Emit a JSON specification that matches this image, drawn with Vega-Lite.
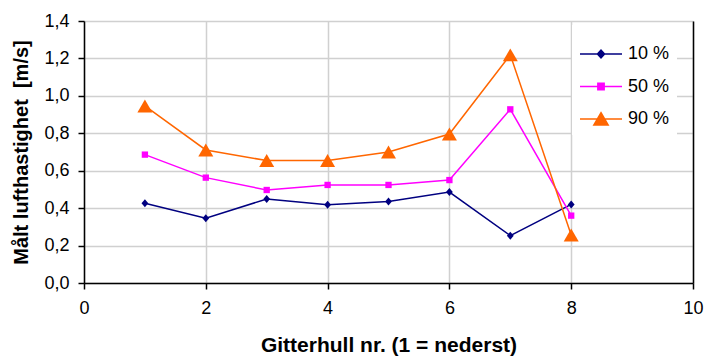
{
  "$schema": "https://vega.github.io/schema/vega-lite/v6.json",
  "width": 609,
  "height": 262,
  "autosize": {"type": "none"},
  "padding": {"left": 84, "top": 21, "right": 14, "bottom": 73},
  "background": "white",
  "config": {
    "font": "Liberation Sans",
    "view": {"stroke": null},
    "axis": {
      "labelFont": "Liberation Sans",
      "labelFontSize": 18,
      "labelColor": "#000000",
      "titleFont": "Liberation Sans",
      "titleFontWeight": "bold",
      "titleColor": "#000000",
      "domainColor": "#000000",
      "domainWidth": 1.5,
      "tickColor": "#000000",
      "tickWidth": 1.5,
      "tickSize": 6,
      "gridColor": "#d0d0d0",
      "gridWidth": 1.5
    }
  },
  "data": {
    "values": [
      {"hull": 1, "serie": "10 %", "hastighet": 0.426},
      {"hull": 2, "serie": "10 %", "hastighet": 0.346},
      {"hull": 3, "serie": "10 %", "hastighet": 0.449},
      {"hull": 4, "serie": "10 %", "hastighet": 0.418},
      {"hull": 5, "serie": "10 %", "hastighet": 0.435},
      {"hull": 6, "serie": "10 %", "hastighet": 0.486},
      {"hull": 7, "serie": "10 %", "hastighet": 0.253},
      {"hull": 8, "serie": "10 %", "hastighet": 0.42},
      {"hull": 1, "serie": "50 %", "hastighet": 0.686},
      {"hull": 2, "serie": "50 %", "hastighet": 0.563},
      {"hull": 3, "serie": "50 %", "hastighet": 0.497},
      {"hull": 4, "serie": "50 %", "hastighet": 0.524},
      {"hull": 5, "serie": "50 %", "hastighet": 0.524},
      {"hull": 6, "serie": "50 %", "hastighet": 0.55},
      {"hull": 7, "serie": "50 %", "hastighet": 0.928},
      {"hull": 8, "serie": "50 %", "hastighet": 0.36},
      {"hull": 1, "serie": "90 %", "hastighet": 0.946},
      {"hull": 2, "serie": "90 %", "hastighet": 0.711},
      {"hull": 3, "serie": "90 %", "hastighet": 0.654},
      {"hull": 4, "serie": "90 %", "hastighet": 0.654},
      {"hull": 5, "serie": "90 %", "hastighet": 0.70},
      {"hull": 6, "serie": "90 %", "hastighet": 0.796},
      {"hull": 7, "serie": "90 %", "hastighet": 1.219},
      {"hull": 8, "serie": "90 %", "hastighet": 0.257}
    ]
  },
  "encoding": {
    "x": {
      "field": "hull",
      "type": "quantitative",
      "scale": {"domain": [0, 10], "nice": false, "zero": false},
      "axis": {
        "title": "Gitterhull nr. (1 = nederst)",
        "titleFontSize": 21,
        "values": [0, 2, 4, 6, 8, 10],
        "format": "d",
        "labelPadding": 10,
        "titlePadding": 17,
        "labelFlush": false
      }
    },
    "color": {
      "field": "serie",
      "type": "nominal",
      "scale": {"domain": ["10 %", "50 %", "90 %"], "range": ["#000080", "#ff00ff", "#ff6600"]},
      "legend": {
        "title": null,
        "orient": "none",
        "legendX": 488,
        "legendY": 4,
        "fillColor": "white",
        "padding": 7,
        "symbolSize": 1764,
        "symbolStrokeWidth": 1.5,
        "labelFont": "Liberation Sans",
        "labelFontSize": 18,
        "labelColor": "#000000",
        "labelOffset": 5,
        "rowPadding": 1.5,
        "encode": {
          "symbols": {
            "update": {
              "shape": {"signal": "datum.value == '10 %' ? 'M-1,0H1M-0.17,0L0,-0.19L0.17,0L0,0.19Z' : datum.value == '50 %' ? 'M-1,0H1M-0.15,-0.15H0.15V0.15H-0.15Z' : 'M-1,0H1M0,-0.3L0.34,0.28H-0.34Z'"},
              "size": {"value": 1764},
              "fill": {"signal": "scale('color', datum.value)"},
              "stroke": {"signal": "scale('color', datum.value)"},
              "strokeWidth": {"value": 1.5},
              "opacity": {"value": 1}
            }
          }
        }
      }
    }
  },
  "layer": [
    {
      "mark": {"type": "line", "strokeWidth": 1.5},
      "encoding": {
        "y": {
          "field": "hastighet",
          "type": "quantitative",
          "scale": {"domain": [0, 1.4], "nice": false},
          "axis": {
            "orient": "right",
            "title": null,
            "labels": false,
            "ticks": false,
            "grid": false,
            "domain": true
          }
        },
        "detail": {"field": "serie"}
      }
    },
    {
      "encoding": {
        "y": {
          "field": "hastighet",
          "type": "quantitative",
          "scale": {"domain": [0, 1.4], "nice": false},
          "axis": {
            "orient": "left",
            "title": "Målt lufthastighet \u00a0[m/s]",
            "titleFontSize": 20,
            "values": [0, 0.2, 0.4, 0.6, 0.8, 1.0, 1.2, 1.4],
            "labelExpr": "replace(format(datum.value, '.1f'), '.', ',')",
            "labelPadding": 9,
            "titlePadding": 12,
            "labelFlush": false,
            "grid": true
          }
        }
      },
      "layer": [
        {
          "transform": [{"filter": "datum.serie == '10 %'"}],
          "mark": {"type": "point", "filled": true, "opacity": 1, "shape": "M-0.85,0L0,-1L0.85,0L0,1Z", "size": 64}
        },
        {
          "transform": [{"filter": "datum.serie == '50 %'"}],
          "mark": {"type": "point", "filled": true, "opacity": 1, "shape": "square", "size": 40}
        },
        {
          "transform": [{"filter": "datum.serie == '90 %'"}],
          "mark": {"type": "point", "filled": true, "opacity": 1, "shape": "triangle-up", "size": 225}
        }
      ]
    }
  ],
  "resolve": {"axis": {"y": "independent"}}
}
